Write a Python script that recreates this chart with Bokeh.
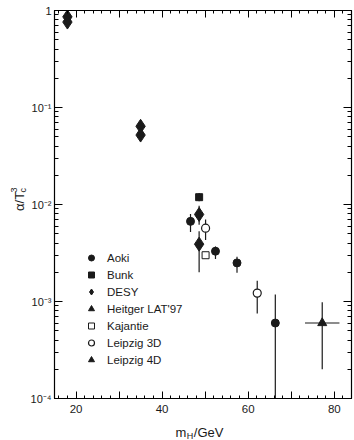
import math
from bokeh.plotting import figure
from bokeh.layouts import column, row
from bokeh.models import (ColumnDataSource, FixedTicker, LogTicker, CustomJSTickFormatter,
                          LinearAxis, LogAxis, Legend, LegendItem, Label)
from bokeh.embed import file_html
from bokeh.resources import INLINE

# ---------------- data ----------------
aoki_m = [46.6, 52.4, 57.4, 66.3]
aoki_v = [0.0067, 0.0033, 0.0025, 0.0006]
aoki_lo = [0.0052, 0.00275, 0.00198, 0.00005]
aoki_hi = [0.0080, 0.0037, 0.0029, 0.00118]

bunk_m = [48.6]
bunk_v = [0.0119]
bunk_lo = [0.0108]
bunk_hi = [0.0131]

desy_m = [18.0, 18.0, 35.0, 35.0, 48.6, 48.6]
desy_v = [0.86, 0.76, 0.064, 0.052, 0.0079, 0.0039]
desy_lo = [0.80, 0.70, 0.060, 0.049, 0.0062, 0.0020]
desy_hi = [0.92, 0.82, 0.069, 0.056, 0.0097, 0.0053]

heitger_m = [float("nan")]   # legend entry only, no visible point
heitger_v = [float("nan")]

kaj_m = [50.1]
kaj_v = [0.0030]

leip3_m = [50.1, 62.1]
leip3_v = [0.0057, 0.00122]
leip3_lo = [0.0043, 0.00075]
leip3_hi = [0.0070, 0.00164]

leip4_m = [77.2]
leip4_v = [0.0006]
leip4_lo = [0.0002]
leip4_hi = [0.00098]
leip4_merr = [4.0]

x_ticks = [20, 30, 40, 50, 60, 70, 80]
x_minor = [16, 18, 22, 24, 26, 28, 32, 34, 36, 38, 42, 44, 46, 48, 52, 54, 56, 58,
           62, 64, 66, 68, 72, 74, 76, 78, 82, 84]
legend_labels = ["Aoki", "Bunk", "DESY", "Heitger LAT'97", "Kajantie", "Leipzig 3D", "Leipzig 4D"]

FONT = "Liberation Sans"
INK = "#1a1a1a"

p = figure(frame_width=297, frame_height=388, y_axis_type="log",
           x_range=(15, 84), y_range=(1e-4, 1),
           output_backend="svg", toolbar_location=None,
           min_border_left=23, min_border_top=10, min_border_right=7, min_border_bottom=22)
p.grid.visible = False
p.outline_line_color = "black"
p.outline_line_width = 1
p.background_fill_color = "white"
p.border_fill_color = "white"

xt = FixedTicker(ticks=x_ticks, minor_ticks=x_minor)
xfmt = CustomJSTickFormatter(code="return (tick % 20 == 0) ? String(tick) : '';")
yfmt = CustomJSTickFormatter(code="""
const e = Math.round(Math.log10(tick));
if (e == 0) return '1';
const sup = {'-':'\u207b','0':'\u2070','1':'\u00b9','2':'\u00b2','3':'\u00b3','4':'\u2074','5':'\u2075'};
let s = '';
for (const ch of String(e)) s += sup[ch];
return '10' + s;
""")
blank = CustomJSTickFormatter(code="return '';")

def style_axis(ax, labels=True):
    ax.major_tick_in = 7
    ax.major_tick_out = 0
    ax.minor_tick_in = 3
    ax.minor_tick_out = 0
    ax.axis_line_color = "black"
    ax.axis_line_width = 1.2
    ax.major_tick_line_color = "black"
    ax.minor_tick_line_color = "black"
    ax.major_label_text_font = FONT
    ax.major_label_text_font_size = "11.5px"
    ax.major_label_text_color = INK
    if not labels:
        ax.major_label_standoff = 0

p.xaxis.ticker = xt
p.xaxis.formatter = xfmt
p.yaxis.ticker = LogTicker(num_minor_ticks=10)
p.yaxis.formatter = yfmt
style_axis(p.xaxis[0])
style_axis(p.yaxis[0])
p.yaxis.major_tick_in = 8
p.yaxis.minor_tick_in = 4
p.yaxis.major_label_text_font_size = "11px"
p.xaxis.major_label_standoff = 6
p.yaxis.major_label_standoff = 3

top = LinearAxis(ticker=FixedTicker(ticks=x_ticks, minor_ticks=x_minor), formatter=blank)
style_axis(top, labels=False)
p.add_layout(top, "above")
right = LogAxis(ticker=LogTicker(num_minor_ticks=10), formatter=blank)
style_axis(right, labels=False)
right.major_tick_in = 8
right.minor_tick_in = 4
p.add_layout(right, "right")

# ---------------- error bars ----------------
def errbars(m, lo, hi):
    s = ColumnDataSource(dict(x=m, lo=lo, hi=hi))
    p.segment(x0="x", y0="lo", x1="x", y1="hi", source=s, line_color=INK, line_width=1.2)

errbars(aoki_m, aoki_lo, aoki_hi)
errbars(bunk_m, bunk_lo, bunk_hi)
errbars(desy_m, desy_lo, desy_hi)
errbars(leip3_m, leip3_lo, leip3_hi)
errbars(leip4_m, leip4_lo, leip4_hi)
s4h = ColumnDataSource(dict(x0=[m - e for m, e in zip(leip4_m, leip4_merr)],
                            x1=[m + e for m, e in zip(leip4_m, leip4_merr)], y=leip4_v))
p.segment(x0="x0", y0="y", x1="x1", y1="y", source=s4h, line_color=INK, line_width=1.2)

# ---------------- markers ----------------
r_aoki = p.scatter(aoki_m, aoki_v, marker="circle", size=8, fill_color=INK, line_color=INK)
r_bunk = p.scatter(bunk_m, bunk_v, marker="square", size=7, fill_color=INK, line_color=INK)
r_desy = p.scatter(desy_m, desy_v, marker="diamond", size=14, fill_color=INK, line_color=INK)
r_heit = p.scatter(heitger_m, heitger_v, marker="triangle", size=9, fill_color=INK, line_color=INK)
r_kaj = p.scatter(kaj_m, kaj_v, marker="square", size=7, fill_color="white", line_color=INK)
r_l3 = p.scatter(leip3_m, leip3_v, marker="circle", size=8, fill_color="white", line_color=INK, line_width=1.2)
r_l4 = p.scatter(leip4_m, leip4_v, marker="triangle", size=9, fill_color=INK, line_color=INK)

renderers = [r_aoki, r_bunk, r_desy, r_heit, r_kaj, r_l3, r_l4]
legend = Legend(items=[LegendItem(label=l, renderers=[r]) for l, r in zip(legend_labels, renderers)],
                location=(27, 31), padding=0, margin=0, spacing=2,
                glyph_height=15, glyph_width=20, label_height=15, label_standoff=6,
                label_text_font=FONT, label_text_font_size="11.5px", label_text_color=INK,
                background_fill_alpha=0, border_line_alpha=0)
p.add_layout(legend, "center")

# ---------------- axis titles (separate small figures so text is not clipped) ----------------
def blank_fig(w, h):
    f = figure(width=w, height=h, x_range=(0, w), y_range=(0, h),
               output_backend="svg", toolbar_location=None,
               min_border=0, min_border_left=0, min_border_right=0,
               min_border_top=0, min_border_bottom=0)
    f.axis.visible = False
    f.grid.visible = False
    f.outline_line_color = None
    f.background_fill_color = "white"
    f.border_fill_color = "white"
    return f

H_MAIN = 10 + 388 + 22
W_YLAB = 27
ylab = blank_fig(W_YLAB, H_MAIN)
yl = dict(angle=math.pi / 2, text_font=FONT, text_color=INK,
          text_align="left", text_baseline="alphabetic")
ylab.add_layout(Label(text="α/T", x=19, y=H_MAIN - 217, text_font_size="13px", **yl))
ylab.add_layout(Label(text="3", x=13, y=H_MAIN - 197, text_font_size="9px", **yl))
ylab.add_layout(Label(text="c", x=22, y=H_MAIN - 197, text_font_size="9px", **yl))

xlab = blank_fig(354, 20)
xl = dict(text_font=FONT, text_color=INK, text_align="left", text_baseline="alphabetic")
xlab.add_layout(Label(text="m", x=175, y=8, text_font_size="13px", **xl))
xlab.add_layout(Label(text="H", x=186.3, y=5, text_font_size="9px", **xl))
xlab.add_layout(Label(text="/GeV", x=193.3, y=8, text_font_size="13px", **xl))

layout = column(row(ylab, p, spacing=0), xlab, spacing=0)
open("out.html", "w").write(file_html(layout, INLINE))
